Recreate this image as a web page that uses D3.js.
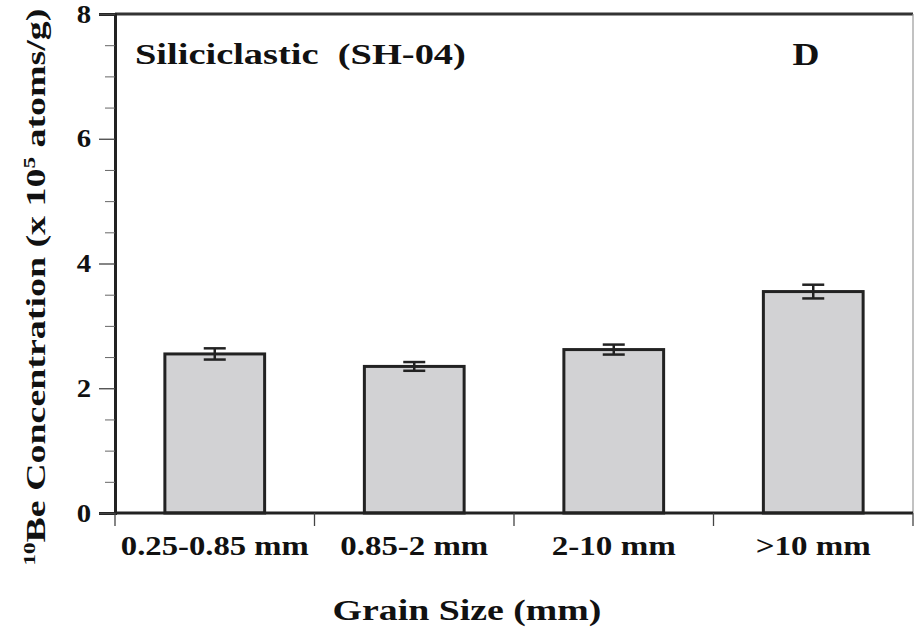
<!DOCTYPE html>
<html><head><meta charset="utf-8">
<script src="https://cdn.jsdelivr.net/npm/d3@7"></script>
<style>body{margin:0;background:#fff}svg{display:block}text{font-family:"Liberation Serif","Times New Roman",serif;font-weight:bold;fill:#111}</style>
</head><body>
<svg id="c" width="914" height="628"></svg>
<script>
const categories = ["0.25-0.85 mm", "0.85-2 mm", "2-10 mm", ">10 mm"];
const values = [2.55, 2.35, 2.62, 3.55];
const errors = [0.09, 0.07, 0.08, 0.11];
const yTicks = [0, 2, 4, 6, 8];
const yMinorTicks = d3.range(0, 8.01, 0.5);

const svg = d3.select("#c");
const L = 115, R = 913, T = 14, B = 513;
const x = d3.scaleBand().domain(categories).range([L, R]).paddingInner(0.5).paddingOuter(0.25);
const xb = d3.scaleBand().domain(categories).range([L, R]);
const y = d3.scaleLinear().domain([0, 8]).range([B, T]);
const SX = 1.15; // horizontal stretch of the original typesetting

// place a text (anchor middle/start) and stretch it to a target width
function placeFit(sel, px, py, target) {
  const w = sel.node().getComputedTextLength();
  const k = target / w;
  sel.attr("x", 0).attr("y", 0).attr("transform", `translate(${px},${py}) scale(${k},1)`);
}

// frame top and right
svg.append("line").attr("x1", L).attr("x2", R).attr("y1", T).attr("y2", T).attr("stroke", "#333").attr("stroke-width", 3);
svg.append("line").attr("x1", R).attr("x2", R).attr("y1", T).attr("y2", B).attr("stroke", "#999").attr("stroke-width", 1.2);

// bars
svg.selectAll("rect.bar").data(values).join("rect").attr("class", "bar")
  .attr("x", (d, i) => x(categories[i])).attr("width", x.bandwidth())
  .attr("y", d => y(d)).attr("height", d => B - y(d))
  .attr("fill", "#d2d2d4").attr("stroke", "#222").attr("stroke-width", 3);

// error bars
const eg = svg.append("g").attr("stroke", "#222").attr("stroke-width", 2.5);
values.forEach((v, i) => {
  const cx = x(categories[i]) + x.bandwidth() / 2;
  const e = errors[i];
  eg.append("line").attr("x1", cx).attr("x2", cx).attr("y1", y(v + e)).attr("y2", y(v - e));
  eg.append("line").attr("x1", cx - 11).attr("x2", cx + 11).attr("y1", y(v + e)).attr("y2", y(v + e));
  eg.append("line").attr("x1", cx - 11).attr("x2", cx + 11).attr("y1", y(v - e)).attr("y2", y(v - e));
});

// y axis
const ya = svg.append("g").attr("transform", `translate(${L},0)`)
  .call(d3.axisLeft(y).tickValues(yTicks).tickSize(16).tickPadding(8).tickFormat(d3.format("d")));
ya.select(".domain").attr("stroke", "#222").attr("stroke-width", 3);
ya.selectAll(".tick line").attr("stroke", "#444").attr("stroke-width", 1.3);
ya.selectAll(".tick text").attr("font-size", 25).attr("fill", "#222")
  .attr("x", -24 / SX).attr("transform", `scale(${SX},1)`);
svg.append("g").attr("transform", `translate(${L},0)`)
  .call(d3.axisLeft(y).tickValues(yMinorTicks.filter(v => v % 2 !== 0)).tickSize(10).tickFormat(""))
  .call(g => g.select(".domain").remove())
  .selectAll(".tick line").attr("stroke", "#666").attr("stroke-width", 1);

// x axis
const catWidths = [188, 148, 124, 115];
const xa = svg.append("g").attr("transform", `translate(0,${B})`)
  .call(d3.axisBottom(xb).tickSize(0).tickPadding(0));
xa.select(".domain").attr("d", `M${L},0H${R}`).attr("stroke", "#222").attr("stroke-width", 3);
xa.selectAll(".tick text").attr("font-size", 27).attr("fill", "#222").attr("dy", null)
  .each(function (d, i) { placeFit(d3.select(this), 0, 42, catWidths[i]); });
const bounds = categories.map(c => xb(c)).concat([R]);
svg.append("g").selectAll("line").data(bounds).join("line")
  .attr("x1", d => d).attr("x2", d => d).attr("y1", B).attr("y2", B + 13)
  .attr("stroke", "#444").attr("stroke-width", 1.3);

// labels
const t1 = svg.append("text").attr("font-size", 30).style("white-space", "pre").text("Siliciclastic  (SH-04)");
placeFit(t1, 135, 64, 331);
const t2 = svg.append("text").attr("font-size", 32).attr("text-anchor", "middle").text("D");
placeFit(t2, 806, 65, 27);
const t3 = svg.append("text").attr("font-size", 30).attr("text-anchor", "middle").text("Grain Size (mm)");
placeFit(t3, 467, 620, 269);

const yl = svg.append("text").attr("text-anchor", "middle").attr("font-size", 28);
yl.append("tspan").attr("font-size", 17).attr("dy", -10).text("10");
yl.append("tspan").attr("dy", 10).text("Be Concentration (x 10");
yl.append("tspan").attr("font-size", 17).attr("dy", -10).text("5");
yl.append("tspan").attr("dy", 10).text(" atoms/g)");
{
  const w = yl.node().getComputedTextLength();
  const k = 557 / w;
  yl.attr("transform", `translate(45,287) rotate(-90) scale(${k},1)`);
}
</script>
</body></html>
